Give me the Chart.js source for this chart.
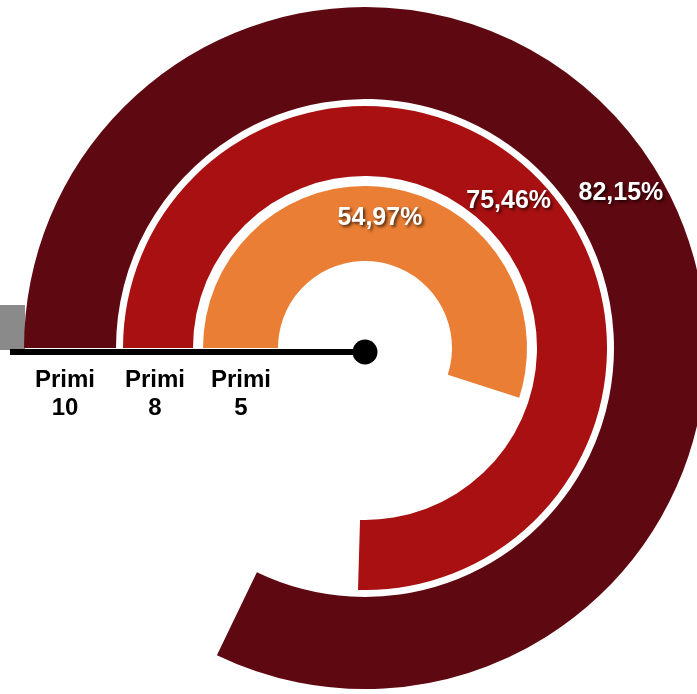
<!DOCTYPE html>
<html><head><meta charset="utf-8">
<script src="https://cdn.jsdelivr.net/npm/chart.js@4"></script>
<style>html,body{margin:0;padding:0;background:#fff;overflow:hidden}canvas{display:block}</style>
</head><body>
<canvas id="c" width="697" height="694" style="width:697px;height:694px"></canvas>
<script>
// ---- data ----
const categories = ['Primi 10', 'Primi 8', 'Primi 5'];
const values = [82.15, 75.46, 54.97];
const valueLabels = ['82,15%', '75,46%', '54,97%'];

// ---- style ----
const colors = ['#5E0811', '#A81011', '#E97E34'];
const ringWeights = [92, 70, 75];
const gapWeights = [7, 10];
const valueLabelPos = [[-31.1, 300], [-45.4, 206], [-83.0, 131]]; // angle deg, radius px
const catLabelDx = [-300, -210, -124];
const TRANSPARENT = 'rgba(0,0,0,0)';

const datasets = [];
values.forEach((v, i) => {
  datasets.push({
    data: [v, 100 - v],
    backgroundColor: [colors[i], TRANSPARENT],
    weight: ringWeights[i],
    borderWidth: 0, hoverOffset: 0, offset: 0
  });
  if (i < gapWeights.length) {
    datasets.push({
      data: [100],
      backgroundColor: [TRANSPARENT],
      weight: gapWeights[i],
      borderWidth: 0, hoverOffset: 0, offset: 0
    });
  }
});
const ringIndex = [0, 2, 4];

const overlay = {
  id: 'overlay',
  beforeDatasetsDraw(chart) {
    const ctx = chart.ctx;
    ctx.save();
    ctx.fillStyle = '#8a8a8a';
    ctx.fillRect(0, 305, 25, 45);
    ctx.restore();
  },
  afterDatasetsDraw(chart) {
    const ctx = chart.ctx;
    const arc0 = chart.getDatasetMeta(0).data[0];
    const cx = arc0.x, cy = arc0.y;
    ctx.save();
    // axis line and hub
    ctx.strokeStyle = '#000';
    ctx.lineWidth = 6;
    ctx.beginPath();
    ctx.moveTo(10, cy + 4);
    ctx.lineTo(cx, cy + 4);
    ctx.stroke();
    ctx.fillStyle = '#000';
    ctx.beginPath();
    ctx.arc(cx, cy + 4, 12.5, 0, Math.PI * 2);
    ctx.fill();
    // category labels
    ctx.font = 'bold 24px "Liberation Sans", Arial, sans-serif';
    ctx.textAlign = 'center';
    ctx.textBaseline = 'alphabetic';
    categories.forEach((c, i) => {
      const parts = c.split(' ');
      const x = cx + catLabelDx[i];
      ctx.fillText(parts[0], x, cy + 39);
      ctx.fillText(parts[1], x, cy + 67);
    });
    // value labels
    ctx.font = 'bold 25px "Liberation Sans", Arial, sans-serif';
    ctx.textBaseline = 'middle';
    ctx.fillStyle = '#fff';
    ctx.shadowColor = 'rgba(0,0,0,0.65)';
    ctx.shadowOffsetX = 2;
    ctx.shadowOffsetY = 2;
    ctx.shadowBlur = 3;
    ringIndex.forEach((di, i) => {
      const a = chart.getDatasetMeta(di).data[0];
      const ang = valueLabelPos[i][0] * Math.PI / 180;
      const r = valueLabelPos[i][1];
      ctx.fillText(valueLabels[i], a.x + r * Math.cos(ang) - 1, a.y + r * Math.sin(ang));
    });
    ctx.restore();
  }
};

new Chart(document.getElementById('c'), {
  type: 'doughnut',
  data: { labels: ['valore', 'resto'], datasets },
  options: {
    responsive: false,
    animation: false,
    events: [],
    rotation: -90,
    circumference: 360,
    radius: 341,
    cutout: (87 / 341 * 100) + '%',
    layout: { padding: { left: 33, right: 0, top: 2, bottom: 0 } },
    plugins: { legend: { display: false }, tooltip: { enabled: false } }
  },
  plugins: [overlay]
});
</script>
</body></html>
